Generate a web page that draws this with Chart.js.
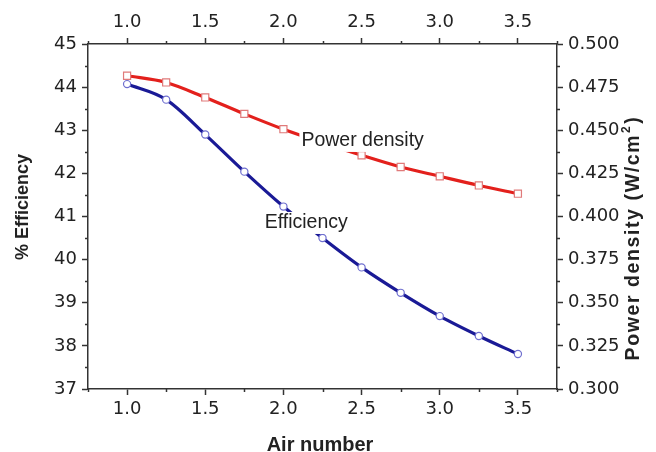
<!DOCTYPE html>
<html><head><meta charset="utf-8">
<script src="https://cdn.jsdelivr.net/npm/chart.js@4.4.0/dist/chart.umd.min.js"></script>
<style>html,body{margin:0;padding:0;background:#fff;}#wrap{width:656px;height:452px;}</style>
</head><body><div id="wrap"><canvas id="c" width="656" height="452"></canvas></div>
<script>
// ---- data ----
const airNumber = [1.0, 1.25, 1.5, 1.75, 2.0, 2.25, 2.5, 2.75, 3.0, 3.25, 3.5];
const efficiency = [44.07, 43.71, 42.90, 42.04, 41.23, 40.50, 39.82, 39.23, 38.69, 38.23, 37.81];
const powerDensity = [0.4816, 0.4777, 0.4690, 0.4595, 0.4506, 0.4428, 0.4355, 0.4287, 0.4233, 0.4180, 0.4132];
const xTickValues = [1.0, 1.5, 2.0, 2.5, 3.0, 3.5];
const effTickValues = [37, 38, 39, 40, 41, 42, 43, 44, 45];
const pdTickValues = [0.300, 0.325, 0.350, 0.375, 0.400, 0.425, 0.450, 0.475, 0.500];
const seriesNames = ['Efficiency', 'Power density'];
const xTitle = 'Air number';
const yTitle = '% Efficiency';
const y2TitleMain = 'Power density (W/cm';
const y2TitleSup = '2';
const y2TitleEnd = ')';

const AX = '#333';
const TXT = '#222';
const tickFont = {family: 'DejaVu Sans', size: 18};

function fixTicks(vals){ return function(scale){ scale.ticks = vals.map(v => ({value: v})); }; }
function gridCfg(){ return {display: true, drawOnChartArea: false, drawTicks: true, tickLength: 6, tickWidth: 1.5, tickColor: AX}; }
function borderCfg(){ return {display: true, color: AX, width: 1.5}; }

const minorTicks = {
  id: 'minorTicks',
  afterDraw(chart){
    const ctx = chart.ctx;
    const defs = [['x', xTickValues], ['x2', xTickValues], ['y', effTickValues], ['y2', pdTickValues]];
    ctx.save();
    ctx.strokeStyle = AX; ctx.lineWidth = 1.5;
    defs.forEach(([id, majors]) => {
      const s = chart.scales[id];
      const step = majors[1] - majors[0];
      const minors = [];
      for (let i = 0; i < majors.length - 1; i++) minors.push((majors[i] + majors[i+1]) / 2);
      const lo = majors[0] - step / 2, hi = majors[majors.length-1] + step / 2;
      if (lo >= s.min - 1e-9) minors.push(lo);
      if (hi <= s.max + 1e-9) minors.push(hi);
      minors.forEach(v => {
        const p = Math.round(s.getPixelForValue(v)) + 0.5;
        ctx.beginPath();
        if (id === 'x') { ctx.moveTo(p, s.top); ctx.lineTo(p, s.top + 3); }
        else if (id === 'x2') { ctx.moveTo(p, s.bottom); ctx.lineTo(p, s.bottom - 3); }
        else if (id === 'y') { ctx.moveTo(s.right, p); ctx.lineTo(s.right - 3, p); }
        else { ctx.moveTo(s.left, p); ctx.lineTo(s.left + 3, p); }
        ctx.stroke();
      });
    });
    ctx.restore();
  }
};

const seriesLabels = {
  id: 'seriesLabels',
  afterDatasetsDraw(chart){
    const ctx = chart.ctx;
    const xs = chart.scales.x;
    const items = [
      {text: seriesNames[1], x: xs.getPixelForValue(2.115), y: chart.scales.y2.getPixelForValue(0.4438)},
      {text: seriesNames[0], x: xs.getPixelForValue(1.88), y: chart.scales.y.getPixelForValue(40.85)}
    ];
    ctx.save();
    ctx.font = '19.5px "Liberation Sans"';
    ctx.textBaseline = 'middle';
    ctx.textAlign = 'left';
    items.forEach(it => {
      const w = ctx.measureText(it.text).width;
      ctx.fillStyle = '#fff';
      ctx.fillRect(it.x - 2, it.y - 11, w + 4, 22);
      ctx.fillStyle = TXT;
      ctx.fillText(it.text, it.x, it.y);
    });
    ctx.restore();
  }
};

const axisTitles = {
  id: 'axisTitles',
  afterDraw(chart){
    const ctx = chart.ctx;
    ctx.save();
    ctx.fillStyle = TXT;
    ctx.textBaseline = 'middle';
    // bottom
    ctx.font = 'bold 20px "Liberation Sans"';
    ctx.textAlign = 'center';
    ctx.fillText(xTitle, 320, 445);
    // left
    ctx.save();
    ctx.translate(23, 207);
    ctx.rotate(-Math.PI / 2);
    ctx.font = 'bold 18px "Liberation Sans"';
    ctx.fillText(yTitle, 0, 0);
    ctx.restore();
    // right
    ctx.save();
    ctx.translate(634, 238);
    ctx.rotate(-Math.PI / 2);
    ctx.textAlign = 'left';
    ctx.letterSpacing = '1.6px';
    const big = 'bold 19.5px "Liberation Sans"', small = 'bold 12px "Liberation Sans"';
    ctx.font = big; const w1 = ctx.measureText(y2TitleMain).width; const w3 = ctx.measureText(y2TitleEnd).width;
    ctx.font = small; const w2 = ctx.measureText(y2TitleSup).width;
    let x0 = -(w1 + w2 + w3 + 2) / 2;
    ctx.font = big; ctx.fillText(y2TitleMain, x0, 0);
    ctx.font = small; ctx.fillText(y2TitleSup, x0 + w1 + 1, -7);
    ctx.font = big; ctx.fillText(y2TitleEnd, x0 + w1 + w2 + 2, 0);
    ctx.restore();
    ctx.restore();
  }
};

new Chart(document.getElementById('c'), {
  type: 'line',
  data: {
    datasets: [
      {
        label: seriesNames[1],
        data: airNumber.map((x, i) => ({x: x, y: powerDensity[i]})),
        xAxisID: 'x', yAxisID: 'y2',
        borderColor: '#e3201c', borderWidth: 3.2,
        pointStyle: 'rect', pointRadius: 5, pointBorderWidth: 1.2,
        pointBorderColor: '#e07a7a', pointBackgroundColor: '#fff',
        tension: 0.4, cubicInterpolationMode: 'monotone', fill: false
      },
      {
        label: seriesNames[0],
        data: airNumber.map((x, i) => ({x: x, y: efficiency[i]})),
        xAxisID: 'x', yAxisID: 'y',
        borderColor: '#1a1a96', borderWidth: 3.2,
        pointStyle: 'circle', pointRadius: 3.6, pointBorderWidth: 1.2,
        pointBorderColor: '#6f6fcf', pointBackgroundColor: '#fff',
        tension: 0.4, cubicInterpolationMode: 'monotone', fill: false
      }
    ]
  },
  options: {
    responsive: false, animation: false, devicePixelRatio: 1,
    layout: {padding: 0},
    plugins: {legend: {display: false}, tooltip: {enabled: false}},
    scales: {
      x: {
        type: 'linear', position: 'bottom', min: 0.75, max: 3.75,
        afterBuildTicks: fixTicks(xTickValues),
        afterFit: s => { s.height = 63; },
        ticks: {autoSkip: false, maxRotation: 0, padding: 4, color: TXT, font: tickFont, callback: v => Number(v).toFixed(1)},
        grid: gridCfg(), border: borderCfg()
      },
      x2: {
        type: 'linear', position: 'top', min: 0.75, max: 3.75,
        afterBuildTicks: fixTicks(xTickValues),
        afterFit: s => { s.height = 44; },
        ticks: {autoSkip: false, maxRotation: 0, padding: 5, color: TXT, font: tickFont, callback: v => Number(v).toFixed(1)},
        grid: gridCfg(), border: borderCfg()
      },
      y: {
        type: 'linear', position: 'left', min: 37, max: 45,
        afterBuildTicks: fixTicks(effTickValues),
        afterFit: s => { s.width = 88; },
        ticks: {autoSkip: false, padding: 5, color: TXT, font: tickFont, callback: v => String(v)},
        grid: gridCfg(), border: borderCfg()
      },
      y2: {
        type: 'linear', position: 'right', min: 0.3, max: 0.5,
        afterBuildTicks: fixTicks(pdTickValues),
        afterFit: s => { s.width = 99; },
        ticks: {autoSkip: false, padding: 5, color: TXT, font: tickFont, callback: v => Number(v).toFixed(3)},
        grid: gridCfg(), border: borderCfg()
      }
    }
  },
  plugins: [minorTicks, seriesLabels, axisTitles]
});
</script>
</body></html>
